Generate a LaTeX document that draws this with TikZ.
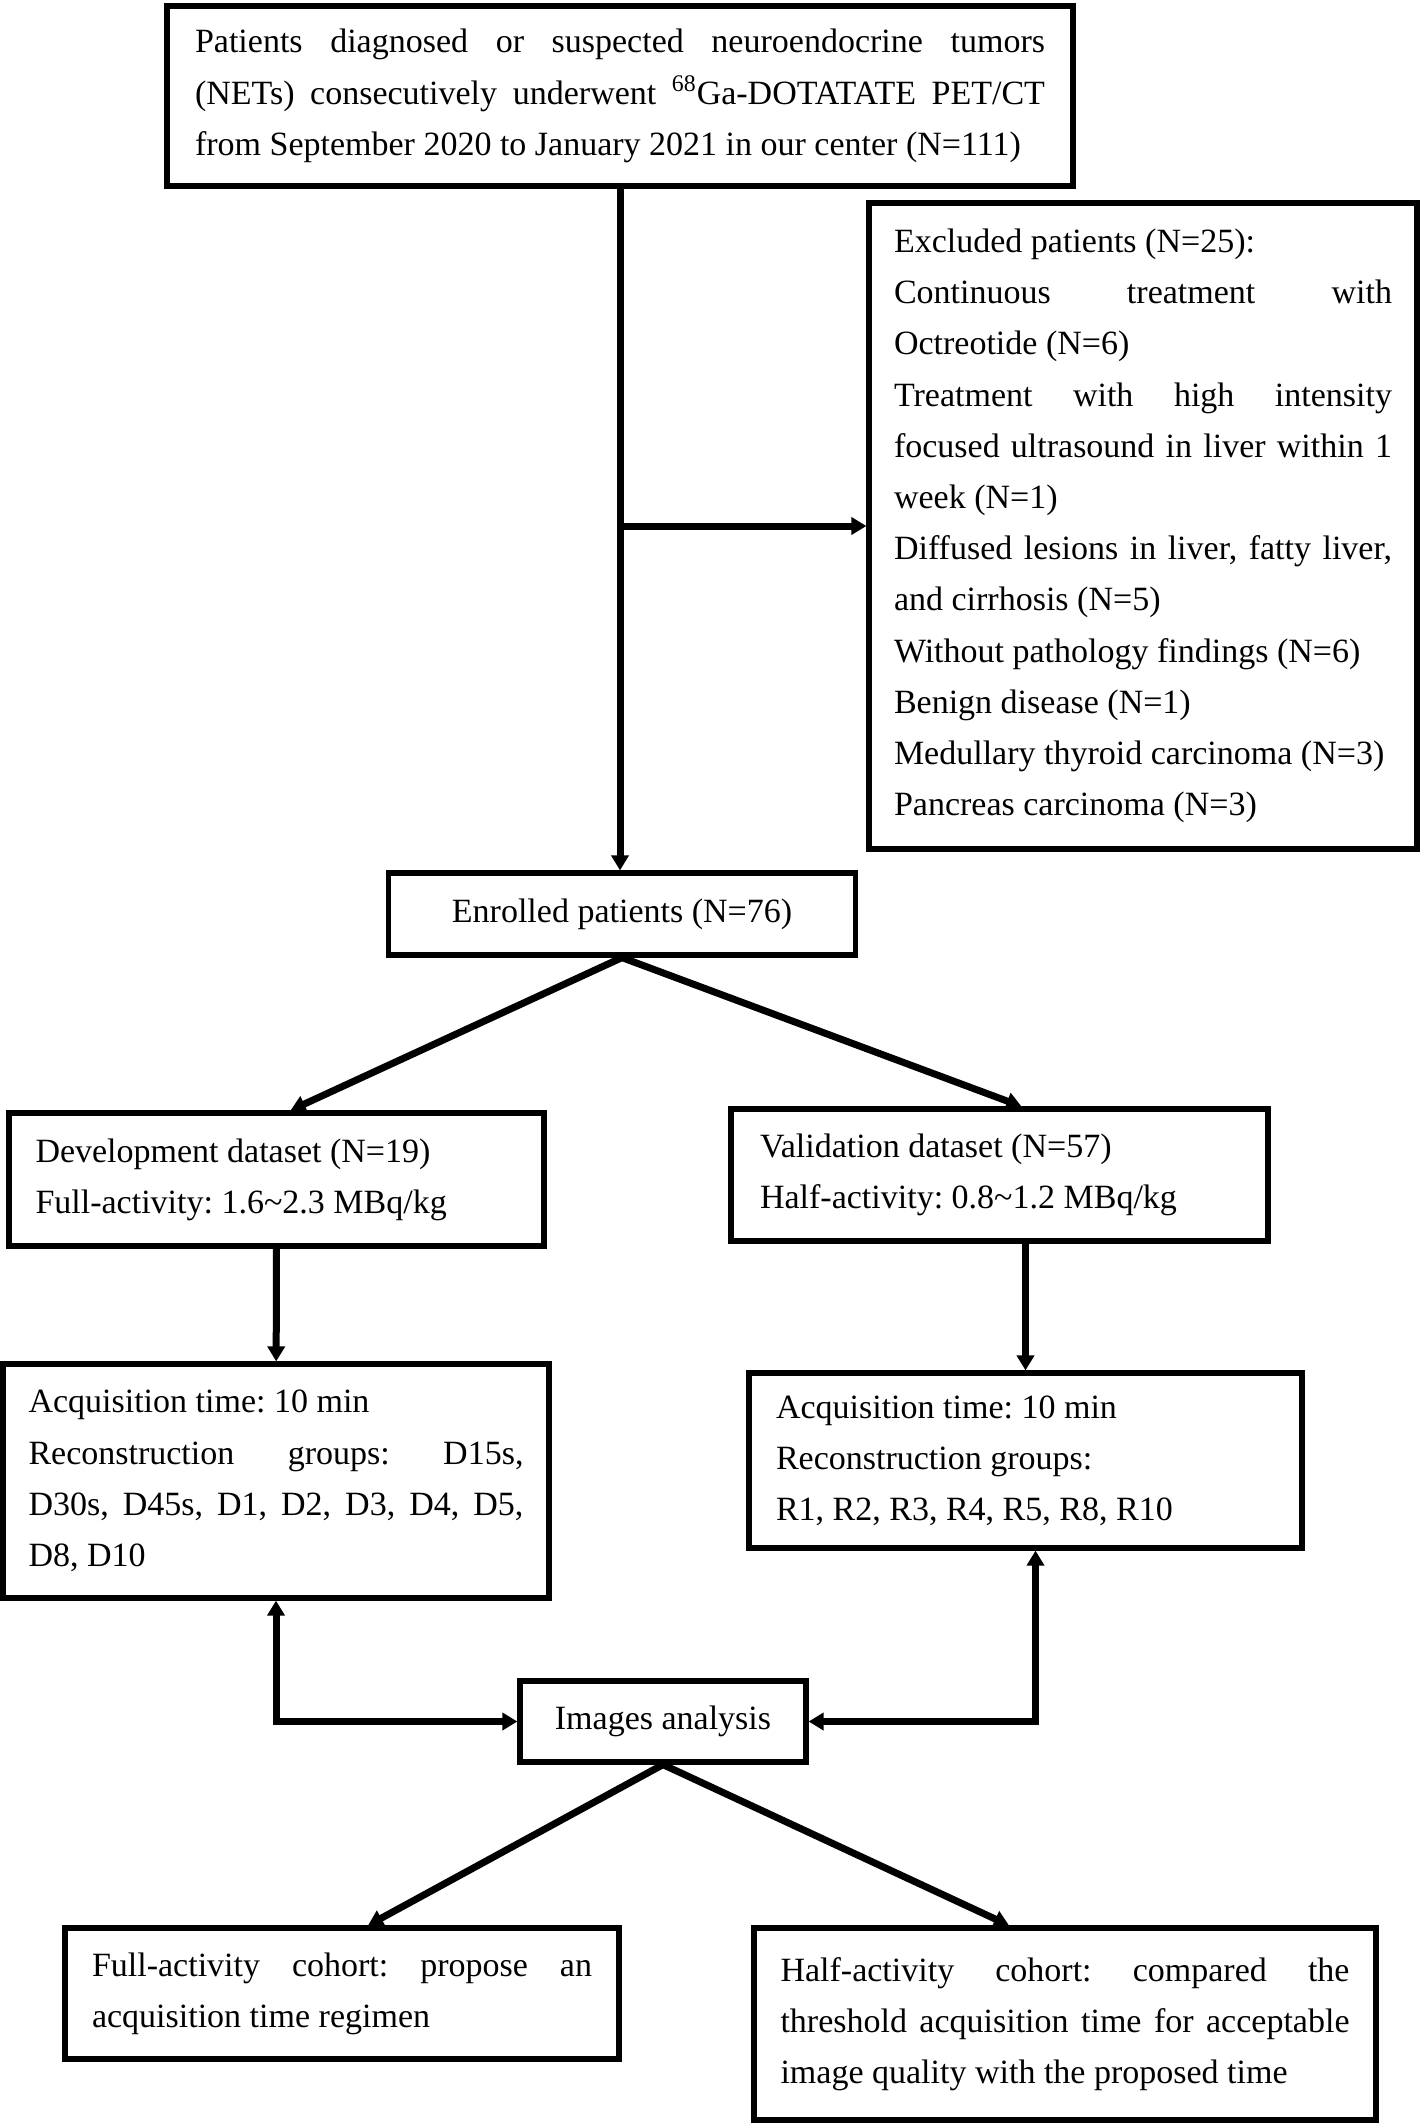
\documentclass[tikz,border=0pt]{standalone}
\usepackage{fontspec}
\setmainfont{Liberation Serif}
\frenchspacing
\usetikzlibrary{arrows.meta,calc,positioning}
\tikzset{box/.style={draw,line width=2.6pt,inner sep=0pt,align=justify,font=\fontsize{17}{25.6}\selectfont},
  arr/.style={-{Triangle[length=7.5pt,width=8.5pt]},line width=3.5pt}}

\begin{document}
\begin{tikzpicture}[x=0.5pt,y=-0.5pt,
  dbl/.style={{Triangle[length=7.5pt,width=8.5pt]}-{Triangle[length=7.5pt,width=8.5pt]},line width=3.5pt}]
\useasboundingbox (0,0) rectangle (1422,2123);
% boxes
\node[box,minimum width=453pt,minimum height=90pt,text width=425pt] (pat) at (620,96)
  {Patients diagnosed or suspected neuroendocrine tumors\linebreak
   (NETs) consecutively underwent \textsuperscript{68}Ga-DOTATATE PET/CT\linebreak
   from September 2020 to January 2021 in our center (N=111)};
\node[box,minimum width=274pt,minimum height=323pt,text width=249pt] (excl) at (1143,526)
  {Excluded patients (N=25):\\
   Continuous treatment with\linebreak Octreotide (N=6)\\
   Treatment with high intensity\linebreak focused ultrasound in liver within 1\linebreak week (N=1)\\
   Diffused lesions in liver, fatty liver,\linebreak and cirrhosis (N=5)\\
   Without pathology findings (N=6)\\
   Benign disease (N=1)\\
   Medullary thyroid carcinoma (N=3)\\
   Pancreas carcinoma (N=3)};
\node[box,align=center,minimum width=233.5pt,minimum height=41pt] (enr) at (622,914) {Enrolled patients (N=76)};
\node[box,minimum width=267.5pt,minimum height=66.5pt,text width=241pt] (dev) at (276.5,1179.5)
  {Development dataset (N=19)\\ Full-activity: 1.6\textasciitilde2.3 MBq/kg};
\node[box,minimum width=268.5pt,minimum height=66pt,text width=239.5pt] (val) at (999.5,1175)
  {Validation dataset (N=57)\\ Half-activity: 0.8\textasciitilde1.2 MBq/kg};
\node[box,minimum width=273pt,minimum height=117pt,text width=247.5pt] (acqd) at (276,1481)
  {Acquisition time: 10 min\\ Reconstruction groups: D15s,\linebreak
   D30s, D45s, D1, D2, D3, D4, D5,\linebreak D8, D10};
\node[box,minimum width=276.5pt,minimum height=87.5pt,text width=249.5pt] (acqv) at (1025.5,1460.5)
  {Acquisition time: 10 min\\ Reconstruction groups:\\ R1, R2, R3, R4, R5, R8, R10};
\node[box,align=center,minimum width=143pt,minimum height=40.5pt] (img) at (663,1721.5) {Images analysis};
\node[box,minimum width=277pt,minimum height=65.5pt,text width=250pt] (full) at (342,1993.5)
  {Full-activity cohort: propose an\linebreak acquisition time regimen};
\node[box,minimum width=311pt,minimum height=96pt,text width=284.5pt] (half) at (1065,2024)
  {Half-activity cohort: compared the\linebreak threshold acquisition time for acceptable\linebreak
   image quality with the proposed time};
% connectors
\draw[arr] (pat.south) -- (enr.north -| pat.south);
\draw[arr] (pat.south |- excl.west) -- (excl.west);
\draw[arr] (enr.south) -- ([xshift=7pt]dev.north);
\draw[arr] (enr.south) -- ([xshift=11pt]val.north);
\draw[arr] (dev) -- (acqd);
\draw[arr] (acqv.north |- val.south) -- (acqv.north);
\draw[dbl] (acqd.south) |- (img.west);
\draw[dbl] ([xshift=5pt]acqv.south) |- (img.east);
\draw[arr] (img.south) -- ([xshift=13pt]full.north);
\draw[arr] (img.south) -- ([xshift=-28pt]half.north);
\end{tikzpicture}
\end{document}
